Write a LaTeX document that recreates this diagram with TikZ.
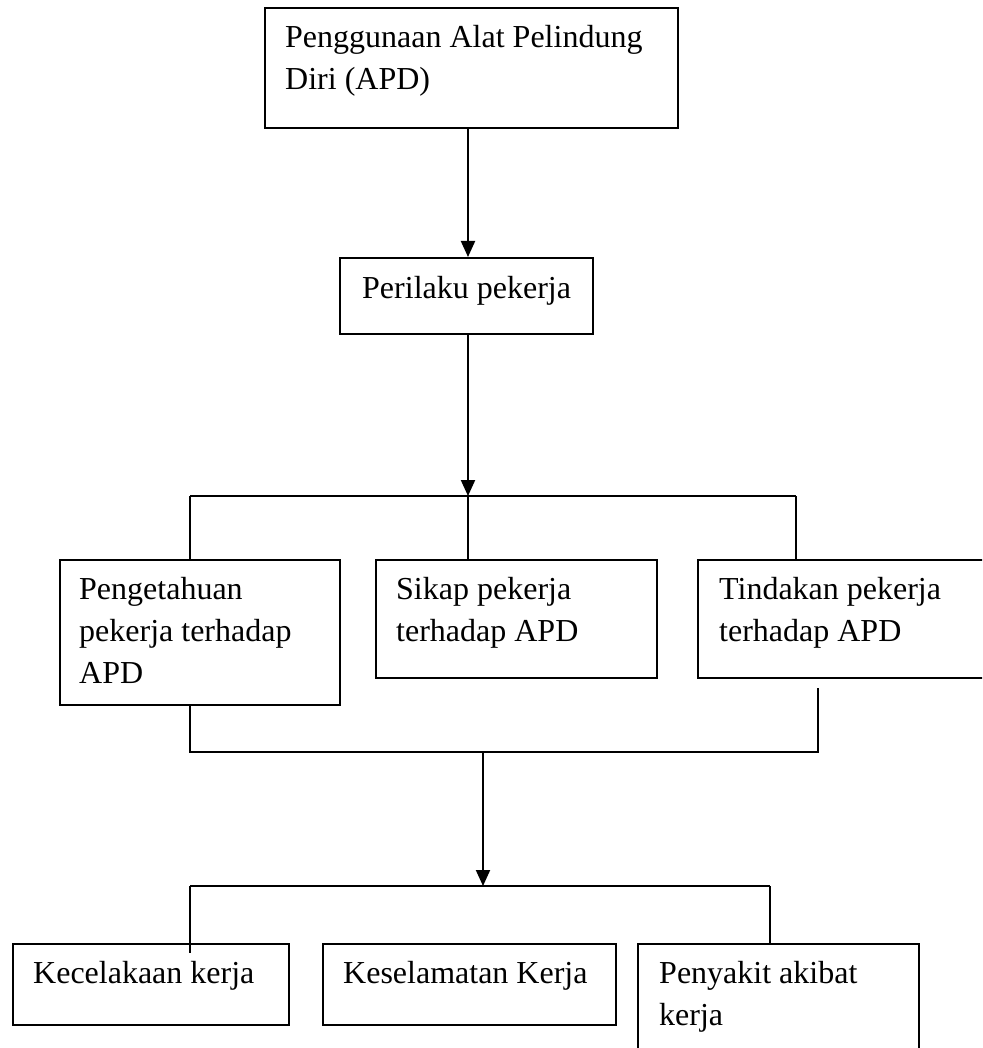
\documentclass[tikz,border=0pt]{standalone}
\usepackage{fontspec}
\setmainfont{Liberation Serif}
\usetikzlibrary{arrows.meta}
\newcommand{\tstrut}{\rule{0pt}{30pt}}
\begin{document}
\begin{tikzpicture}[x=1pt,y=-1pt,
  box/.style={draw, line width=1.8pt, inner sep=0pt, anchor=north west},
  txt/.style={anchor=north west, inner sep=0pt, align=left, font=\fontsize{32}{42}\selectfont},
  conn/.style={line width=1.8pt},
  arr/.style={line width=2pt, -{Triangle[length=16pt,width=14pt]}}]
\useasboundingbox (0,0) rectangle (982,1048);
\clip (0,0) rectangle (982,1048);
% boxes
\node[box, minimum width=413pt, minimum height=120pt] (A) at (264,7) {};
\node[box, minimum width=253pt, minimum height=76pt] (B) at (339,257) {};
\node[box, minimum width=280pt, minimum height=145pt] (C1) at (59,559) {};
\node[box, minimum width=281pt, minimum height=118pt] (C2) at (375,559) {};
\node[box, minimum width=300pt, minimum height=118pt] (C3) at (697,559) {};
\node[box, minimum width=276pt, minimum height=81pt] (D1) at (12,943) {};
\node[box, minimum width=293pt, minimum height=81pt] (D2) at (322,943) {};
\node[box, minimum width=281pt, minimum height=120pt] (D3) at (637,943) {};
% texts
\node[txt] (tA) at (285,17) {\tstrut Penggunaan Alat Pelindung\\Diri (APD)};
\node[txt] (tB) at (362,268) {\tstrut Perilaku pekerja};
\node[txt] (tC1) at (79,569) {\tstrut Pengetahuan\\pekerja terhadap\\APD};
\node[txt] (tC2) at (396,569) {\tstrut Sikap pekerja\\terhadap APD};
\node[txt] (tC3) at (719,569) {\tstrut Tindakan pekerja\\terhadap APD};
\node[txt] (tD1) at (33,953) {\tstrut Kecelakaan kerja};
\node[txt] (tD2) at (343,953) {\tstrut Keselamatan Kerja};
\node[txt] (tD3) at (659,953) {\tstrut Penyakit akibat\\kerja};
% junction coordinates
\coordinate (j1) at (468,496);
\coordinate (j1l) at (190,496);
\coordinate (j1r) at (796,496);
\coordinate (j2l) at (190,752);
\coordinate (j2r) at (818,752);
\coordinate (j2m) at (483,752);
\coordinate (r3) at (818,688);
\coordinate (j3) at (483,886);
\coordinate (j3l) at (190,886);
\coordinate (j3r) at (770,886);
\coordinate (d1in) at (190,953);
% connectors
\draw[arr] (A.south -| j1) -- (B.north -| j1);
\draw[arr] (B.south -| j1) -- (j1);
\draw[conn] (j1l) -- (j1r);
\draw[conn] (j1l) -- (C1.north -| j1l);
\draw[conn] (j1) -- (C2.north -| j1);
\draw[conn] (j1r) -- (C3.north -| j1r);
\draw[conn] (C1.south -| j2l) -- (j2l) -- (j2r) -- (r3);
\draw[arr] (j2m) -- (j3);
\draw[conn] (j3l) -- (j3r);
\draw[conn] (j3l) -- (d1in);
\draw[conn] (j3r) -- (D3.north -| j3r);
\end{tikzpicture}
\end{document}
